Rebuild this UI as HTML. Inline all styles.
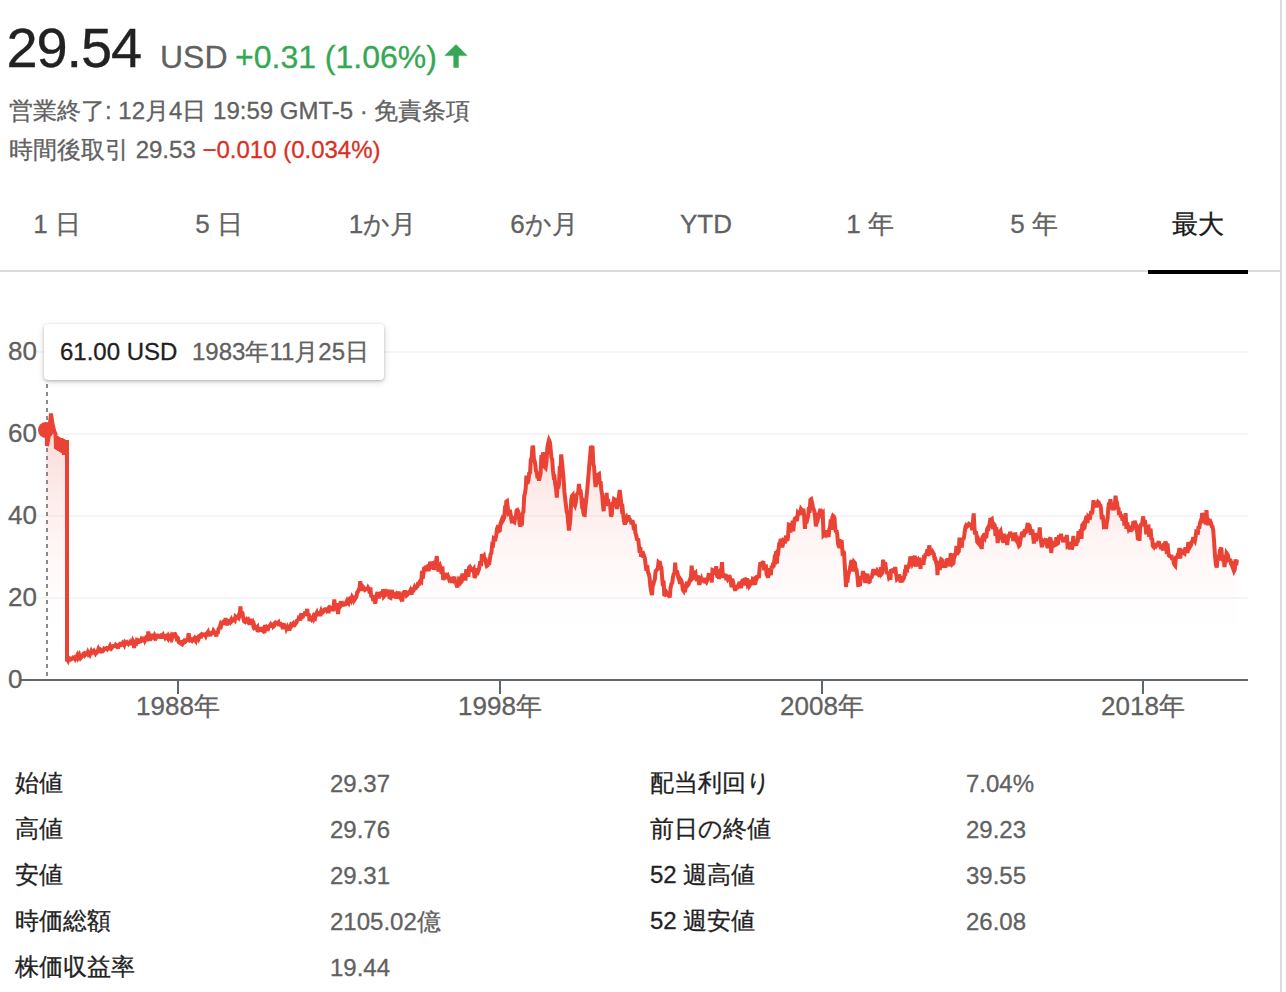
<!DOCTYPE html>
<html lang="ja">
<head>
<meta charset="utf-8">
<title>29.54 USD</title>
<style>
html,body{margin:0;padding:0;background:#fff;}
body{width:1286px;height:992px;position:relative;overflow:hidden;font-family:"Liberation Sans",sans-serif;color:#5f6368;}
.t{position:absolute;white-space:nowrap;line-height:1;margin:0;-webkit-text-stroke:0.3px currentColor;}
.j{display:inline-block;white-space:nowrap;vertical-align:baseline;line-height:0;}
#price{left:6.5px;top:20px;font-size:56px;color:#222;letter-spacing:-1.1px;}
#cur{left:160px;top:41px;font-size:32px;color:#616161;}
#chg{left:235px;top:41px;font-size:32px;color:#34a853;}
#l2{left:9px;top:99px;font-size:24px;color:#616161;}
#l3{left:9px;top:138px;font-size:24px;color:#616161;}
#l3 .neg{color:#d93025;}
.tab{-webkit-text-stroke:0.3px currentColor;position:absolute;top:198px;width:100px;height:72px;line-height:52px;text-align:center;font-size:26px;color:#626262;white-space:nowrap;}
.tab.on{color:#1a1a1a;}
#tabline{position:absolute;left:0;top:270px;width:1281px;height:2px;background:#dadce0;}
#tabsel{position:absolute;left:1148px;top:270px;width:100px;height:4px;background:#000;}
#vline{position:absolute;left:1280px;top:0;width:2px;height:992px;background:#dadce0;}
#chart{position:absolute;left:0;top:300px;}
.yl{font-size:26px;color:#616161;left:8px;}
.xl{font-size:26px;color:#616161;width:120px;text-align:center;top:693px;}
#tip{position:absolute;left:44px;top:324px;width:340px;height:56px;background:#fff;border-radius:4px;box-shadow:0 1px 3px rgba(0,0,0,.22),0 2px 7px rgba(0,0,0,.14);}
#tipv{left:60px;top:340px;font-size:24px;color:#202020;}
#tipd{left:192px;top:340px;font-size:24px;color:#616161;}
.k{font-size:24px;color:#222;}
.v{font-size:24px;color:#616161;}
</style>
</head>
<body>
<div id="vline"></div>

<div class="t" id="price">29.54</div>
<div class="t" id="cur">USD</div>
<div class="t" id="chg">+0.31 (1.06%)</div>
<svg style="position:absolute;left:444px;top:44px" width="24" height="24" viewBox="0 0 24 24"><path d="M12 0.2 L23.6 11.8 L14.7 11.8 L14.7 23.7 L9.4 23.7 L9.4 11.8 L0.3 11.8 Z" fill="#34a853"/></svg>

<div class="t" id="l2"><span class="j" style="width:96px">営業終了</span>: 12<span class="j" style="width:24px">月</span>4<span class="j" style="width:24px">日</span> 19:59 GMT-5 · <span class="j" style="width:96px">免責条項</span></div>
<div class="t" id="l3"><span class="j" style="width:120px">時間後取引</span> 29.53 <span class="neg">−0.010 (0.034%)</span></div>

<div class="tab" style="left:7px">1 <span class="j" style="width:26px">日</span></div>
<div class="tab" style="left:169px">5 <span class="j" style="width:26px">日</span></div>
<div class="tab" style="left:332px">1<span class="j" style="width:52px">か月</span></div>
<div class="tab" style="left:493.5px">6<span class="j" style="width:52px">か月</span></div>
<div class="tab" style="left:656px">YTD</div>
<div class="tab" style="left:820px">1 <span class="j" style="width:26px">年</span></div>
<div class="tab" style="left:984px">5 <span class="j" style="width:26px">年</span></div>
<div class="tab on" style="left:1148px"><span class="j" style="width:52px">最大</span></div>
<div id="tabline"></div>
<div id="tabsel"></div>

<svg id="chart" width="1286" height="400" viewBox="0 300 1286 400">
  <defs>
    <linearGradient id="g" x1="0" y1="413" x2="0" y2="679" gradientUnits="userSpaceOnUse">
      <stop offset="0" stop-color="#ea4335" stop-opacity="0.2"/>
      <stop offset="0.14" stop-color="#ea4335" stop-opacity="0.165"/>
      <stop offset="0.33" stop-color="#ea4335" stop-opacity="0.098"/>
      <stop offset="0.45" stop-color="#ea4335" stop-opacity="0.062"/>
      <stop offset="0.59" stop-color="#ea4335" stop-opacity="0.03"/>
      <stop offset="0.69" stop-color="#ea4335" stop-opacity="0.012"/>
      <stop offset="0.8" stop-color="#ea4335" stop-opacity="0.003"/>
      <stop offset="1" stop-color="#ea4335" stop-opacity="0"/>
    </linearGradient>
  </defs>
  <g stroke="#f5f5f5" stroke-width="2">
    <line x1="37" y1="352" x2="1248" y2="352"/>
    <line x1="37" y1="434" x2="1248" y2="434"/>
    <line x1="37" y1="516" x2="1248" y2="516"/>
    <line x1="37" y1="598" x2="1248" y2="598"/>
  </g>
  <path d="M46.5 430.0 L47.0 446.0 L48.5 438.0 L51.0 413.5 L52.5 424.0 L54.2 431.0 L55.5 434.0 L56.0 449.0 L56.8 436.0 L57.6 450.0 L58.4 437.0 L59.2 451.0 L60.0 438.0 L60.8 452.0 L61.6 438.0 L62.4 453.0 L63.2 439.0 L64.0 455.0 L64.8 440.0 L65.5 455.0 L66.2 440.0 L66.8 454.0 L67.0 440.0 L67.0 661.5 L67.4 659.5 L68.1 660.7 L68.8 658.7 L69.5 658.3 L70.2 658.7 L70.9 659.4 L71.6 658.9 L72.3 658.6 L73.0 657.8 L73.7 658.3 L74.4 657.7 L75.1 658.9 L75.8 657.4 L76.5 657.0 L77.2 655.5 L77.9 657.6 L78.6 656.1 L79.3 654.7 L80.0 656.6 L80.7 654.8 L81.4 657.1 L82.1 656.3 L82.8 655.2 L83.6 653.5 L84.3 653.2 L85.0 655.0 L85.7 654.1 L86.4 654.5 L87.1 654.5 L87.8 652.6 L88.5 654.3 L89.2 653.5 L89.9 654.7 L90.6 652.9 L91.3 651.1 L92.0 652.5 L92.7 651.8 L93.4 652.2 L94.1 651.1 L94.8 652.2 L95.5 653.5 L96.2 652.1 L96.9 652.3 L97.6 651.2 L98.3 649.3 L99.0 651.0 L99.7 651.2 L100.5 649.5 L101.2 650.0 L101.9 651.5 L102.6 651.4 L103.4 650.4 L104.1 648.7 L104.8 649.1 L105.5 648.6 L106.3 648.2 L107.0 648.9 L107.7 646.6 L108.5 649.7 L109.2 648.0 L109.9 649.6 L110.6 646.8 L111.4 648.4 L112.1 647.6 L112.8 646.7 L113.5 645.9 L114.3 645.8 L115.0 646.0 L115.7 644.8 L116.4 645.6 L117.1 646.5 L117.9 648.4 L118.6 645.6 L119.3 644.4 L120.0 643.9 L120.7 644.2 L121.4 645.0 L122.1 644.7 L122.9 642.8 L123.6 643.4 L124.3 644.8 L125.0 642.4 L125.7 643.2 L126.4 643.4 L127.1 642.5 L127.9 643.4 L128.6 641.0 L129.3 644.5 L130.0 643.0 L130.7 645.0 L131.4 640.6 L132.1 643.4 L132.8 641.0 L133.5 642.6 L134.2 648.0 L134.9 639.7 L135.6 642.2 L136.3 642.8 L137.0 639.7 L137.7 639.9 L138.4 640.7 L139.1 641.9 L139.9 641.7 L140.6 641.0 L141.3 639.4 L142.0 640.4 L142.7 639.8 L143.4 636.9 L144.1 638.9 L144.8 640.7 L145.5 639.3 L146.2 637.7 L146.9 635.7 L147.6 641.3 L148.3 631.4 L149.0 638.0 L149.7 638.8 L150.5 639.1 L151.2 637.8 L151.9 635.4 L152.7 635.4 L153.4 637.6 L154.1 638.2 L154.9 635.3 L155.6 636.3 L156.3 637.4 L157.1 635.7 L157.8 635.5 L158.5 636.3 L159.3 636.4 L160.0 636.0 L160.7 638.6 L161.4 635.8 L162.1 635.9 L162.9 634.8 L163.6 636.4 L164.3 636.2 L165.0 637.6 L165.7 636.4 L166.4 635.9 L167.1 637.3 L167.9 638.5 L168.6 636.1 L169.3 637.3 L170.0 637.0 L170.7 638.4 L171.4 636.2 L172.1 637.6 L172.9 634.4 L173.6 634.6 L174.3 634.1 L175.0 634.0 L175.7 635.5 L176.4 638.0 L177.1 637.2 L177.9 637.8 L178.6 642.1 L179.3 642.8 L180.0 643.0 L180.7 640.5 L181.4 643.8 L182.1 644.3 L182.9 642.2 L183.6 641.3 L184.3 642.6 L185.0 642.2 L185.7 640.3 L186.4 640.3 L187.1 640.3 L187.9 639.8 L188.6 633.2 L189.3 637.8 L190.0 640.0 L190.7 639.5 L191.4 640.2 L192.1 637.8 L192.9 639.8 L193.6 638.9 L194.3 638.1 L195.0 639.9 L195.7 640.9 L196.4 638.1 L197.1 638.3 L197.9 637.4 L198.6 638.8 L199.3 637.0 L200.0 637.0 L200.7 635.0 L201.4 634.4 L202.1 635.4 L202.8 634.4 L203.5 634.7 L204.2 634.8 L205.0 634.4 L205.7 635.8 L206.4 633.8 L207.1 633.2 L207.8 632.2 L208.5 636.3 L209.2 633.9 L209.9 634.4 L210.6 634.4 L211.3 631.4 L212.0 633.3 L212.8 633.0 L213.5 630.8 L214.2 631.8 L214.9 633.3 L215.6 633.6 L216.3 636.4 L217.0 632.0 L217.7 633.9 L218.4 629.3 L219.1 628.3 L219.9 626.5 L220.6 624.2 L221.3 625.4 L222.0 623.0 L222.7 624.7 L223.4 621.5 L224.1 621.1 L224.9 621.4 L225.6 618.2 L226.3 622.4 L227.0 625.3 L227.7 621.8 L228.4 619.5 L229.1 621.5 L229.9 622.4 L230.6 620.7 L231.3 619.4 L232.0 621.0 L232.7 620.3 L233.4 619.6 L234.1 619.7 L234.8 620.4 L235.5 616.6 L236.2 617.2 L236.9 617.3 L237.6 617.7 L238.3 616.1 L239.0 617.3 L239.7 615.4 L240.4 606.3 L241.1 616.8 L241.8 612.1 L242.5 613.0 L243.3 618.0 L244.2 621.5 L245.0 622.0 L245.8 620.7 L246.6 619.6 L247.4 620.9 L248.2 620.0 L249.0 623.0 L249.7 624.3 L250.4 618.8 L251.1 624.7 L251.8 623.3 L252.5 622.4 L253.2 625.4 L253.9 624.5 L254.6 627.8 L255.3 627.4 L256.0 625.6 L256.7 627.9 L257.4 627.1 L258.1 631.9 L258.8 627.2 L259.5 630.3 L260.2 630.1 L260.9 628.8 L261.6 628.6 L262.3 630.4 L263.0 631.0 L263.7 629.3 L264.4 633.1 L265.1 624.8 L265.8 629.0 L266.5 627.9 L267.2 629.2 L267.9 629.3 L268.6 627.2 L269.3 626.1 L270.0 626.0 L270.7 624.6 L271.4 625.7 L272.1 627.2 L272.8 622.7 L273.5 626.4 L274.2 625.8 L274.9 623.1 L275.6 622.4 L276.3 622.7 L277.0 623.0 L277.7 623.7 L278.5 622.7 L279.2 625.6 L279.9 622.0 L280.7 626.3 L281.4 623.1 L282.1 626.3 L282.9 628.9 L283.6 623.3 L284.3 625.5 L285.1 628.3 L285.8 625.6 L286.5 628.7 L287.3 627.1 L288.0 629.0 L288.7 625.4 L289.4 630.6 L290.1 626.9 L290.9 624.9 L291.6 625.6 L292.3 624.3 L293.0 623.6 L293.7 626.8 L294.4 623.0 L295.1 624.3 L295.9 623.2 L296.6 622.5 L297.3 619.4 L298.0 621.0 L298.7 618.3 L299.4 618.9 L300.1 620.6 L300.8 615.2 L301.5 613.5 L302.2 617.2 L303.0 616.7 L303.7 614.6 L304.4 614.4 L305.1 611.8 L305.8 613.9 L306.5 612.0 L307.2 608.9 L308.0 616.2 L308.8 613.6 L309.5 621.1 L310.2 617.9 L311.0 618.0 L311.7 619.3 L312.4 618.2 L313.1 616.7 L313.8 618.6 L314.5 616.8 L315.2 617.6 L315.9 614.3 L316.6 613.0 L317.3 616.1 L318.0 613.0 L318.8 613.4 L319.5 616.0 L320.2 613.5 L321.0 611.2 L321.8 613.4 L322.5 612.7 L323.2 612.0 L324.0 611.1 L324.8 608.3 L325.5 611.5 L326.2 607.7 L327.0 610.0 L327.7 609.1 L328.5 613.1 L329.2 608.7 L329.9 611.0 L330.6 607.6 L331.4 608.1 L332.1 607.9 L332.8 609.4 L333.5 609.4 L334.3 599.5 L335.0 607.0 L335.8 608.0 L336.5 607.9 L337.2 603.1 L338.0 614.1 L338.8 608.3 L339.5 604.9 L340.2 603.6 L341.0 601.4 L341.8 604.8 L342.5 604.0 L343.2 605.8 L344.0 602.3 L344.7 604.5 L345.4 604.3 L346.2 602.2 L346.9 600.8 L347.6 602.4 L348.4 603.3 L349.1 599.9 L349.9 598.3 L350.6 598.2 L351.3 599.8 L352.1 597.0 L352.8 598.2 L353.5 595.9 L354.3 600.1 L355.0 599.0 L355.8 597.8 L356.5 596.4 L357.2 592.2 L358.0 591.7 L358.8 589.4 L359.5 589.0 L360.2 581.2 L361.0 588.0 L361.8 588.3 L362.6 590.5 L363.4 587.4 L364.2 588.4 L365.0 590.0 L365.8 589.5 L366.6 587.1 L367.4 590.4 L368.2 587.8 L369.0 589.0 L369.7 593.5 L370.4 587.3 L371.1 595.9 L371.9 596.2 L372.6 596.6 L373.3 600.8 L374.0 599.0 L374.7 601.6 L375.4 603.6 L376.1 596.6 L376.8 594.1 L377.5 592.3 L378.2 595.3 L378.9 598.4 L379.6 592.6 L380.3 595.2 L381.0 595.0 L381.7 591.5 L382.5 596.4 L383.2 589.2 L383.9 596.5 L384.6 595.7 L385.4 595.1 L386.1 593.2 L386.8 594.8 L387.5 589.8 L388.3 592.9 L389.0 591.5 L389.7 597.4 L390.5 597.8 L391.2 592.8 L391.9 590.0 L392.7 596.9 L393.4 592.0 L394.1 597.7 L394.9 594.6 L395.6 594.8 L396.3 598.7 L397.1 594.7 L397.8 595.6 L398.5 593.6 L399.3 591.9 L400.0 596.0 L400.7 597.8 L401.5 596.2 L402.2 601.4 L402.9 595.3 L403.7 592.8 L404.4 592.9 L405.1 590.5 L405.9 593.0 L406.6 595.4 L407.3 594.8 L408.1 592.7 L408.8 592.7 L409.5 592.1 L410.3 590.5 L411.0 593.0 L411.7 594.5 L412.4 587.5 L413.1 592.0 L413.9 589.0 L414.6 587.1 L415.3 588.4 L416.0 588.0 L416.8 586.4 L417.5 586.2 L418.3 582.1 L419.1 585.4 L419.8 581.4 L420.6 580.6 L421.3 581.3 L422.0 570.9 L422.7 578.6 L423.4 574.3 L424.2 567.0 L424.9 571.5 L425.6 567.4 L426.3 567.4 L427.0 566.5 L427.8 566.1 L428.6 571.0 L429.4 567.2 L430.2 561.9 L431.0 564.0 L431.7 563.7 L432.4 568.8 L433.1 565.6 L433.9 569.6 L434.6 567.8 L435.3 560.6 L436.0 562.0 L436.8 556.1 L437.6 564.8 L438.4 571.5 L439.2 567.5 L440.0 566.0 L440.8 569.0 L441.6 573.9 L442.4 566.4 L443.2 579.9 L444.0 577.5 L444.8 577.6 L445.5 573.0 L446.2 575.9 L447.0 576.5 L447.8 575.6 L448.5 577.7 L449.2 579.8 L450.0 579.0 L450.7 577.0 L451.5 581.3 L452.2 581.2 L452.9 577.2 L453.6 579.1 L454.4 576.6 L455.1 583.6 L455.8 580.4 L456.5 585.1 L457.3 587.2 L458.0 584.0 L458.8 580.0 L459.5 580.9 L460.2 579.4 L461.0 582.3 L461.8 581.3 L462.5 573.5 L463.2 577.9 L464.0 576.0 L464.7 574.6 L465.5 580.5 L466.2 569.4 L466.9 571.4 L467.7 574.0 L468.4 576.8 L469.1 567.4 L469.9 566.7 L470.6 568.0 L471.4 570.2 L472.1 570.3 L472.9 570.1 L473.7 569.0 L474.5 577.8 L475.2 576.5 L476.0 574.0 L476.7 570.1 L477.4 570.0 L478.2 571.4 L478.9 569.5 L479.6 565.3 L480.3 561.3 L481.1 566.1 L481.8 555.7 L482.5 555.6 L483.2 556.9 L483.9 556.0 L484.7 561.4 L485.4 557.8 L486.1 563.5 L486.8 565.9 L487.6 565.3 L488.3 560.0 L489.0 565.0 L489.8 559.6 L490.6 554.2 L491.4 552.8 L492.2 544.6 L493.0 545.0 L493.8 538.4 L494.6 539.0 L495.4 539.2 L496.2 536.0 L497.0 529.0 L497.7 526.7 L498.4 525.5 L499.1 531.0 L499.8 530.6 L500.6 523.1 L501.3 521.2 L502.0 519.4 L502.7 520.9 L503.4 519.7 L504.1 518.0 L504.8 510.5 L505.6 511.7 L506.3 501.5 L507.0 501.0 L507.7 506.8 L508.4 512.8 L509.1 512.0 L509.9 509.9 L510.6 514.1 L511.3 519.4 L512.0 523.0 L512.8 519.8 L513.6 521.4 L514.4 522.1 L515.1 518.7 L515.9 515.2 L516.7 510.4 L517.5 510.0 L518.2 511.3 L518.9 515.8 L519.6 524.1 L520.3 526.5 L521.0 523.0 L521.8 525.5 L522.6 513.3 L523.4 512.0 L524.2 496.2 L525.0 493.0 L525.7 488.6 L526.4 475.6 L527.1 483.0 L527.9 482.4 L528.6 479.2 L529.3 472.2 L530.0 474.0 L530.8 459.6 L531.7 457.5 L532.5 446.0 L533.2 447.4 L533.9 458.8 L534.6 461.1 L535.3 464.3 L536.0 471.0 L536.8 472.5 L537.5 478.3 L538.2 476.7 L539.0 480.6 L539.8 476.9 L540.6 473.6 L541.4 455.0 L542.2 463.6 L543.0 452.5 L543.9 456.1 L544.7 467.0 L545.6 468.0 L546.5 461.1 L547.3 448.2 L548.1 443.5 L549.0 440.0 L549.8 441.7 L550.6 448.9 L551.4 457.4 L552.2 459.5 L553.0 471.0 L553.8 477.1 L554.5 476.8 L555.2 483.9 L556.0 487.8 L556.8 497.6 L557.5 487.0 L558.2 488.5 L559.0 484.2 L559.8 466.1 L560.5 469.5 L561.2 454.4 L562.0 462.0 L562.8 470.9 L563.6 478.9 L564.4 491.9 L565.2 498.9 L566.0 505.6 L566.8 512.2 L567.5 514.2 L568.2 523.1 L569.0 530.6 L569.8 524.6 L570.5 516.5 L571.2 500.0 L572.0 496.0 L572.8 495.1 L573.5 502.0 L574.2 504.1 L575.0 505.6 L575.8 502.5 L576.6 495.1 L577.4 493.5 L578.2 492.5 L579.0 484.0 L579.7 492.2 L580.4 489.5 L581.1 494.6 L581.9 504.0 L582.6 503.0 L583.3 512.2 L584.0 514.8 L584.7 515.0 L585.5 505.8 L586.4 498.3 L587.2 490.1 L588.0 480.6 L588.8 471.6 L589.5 462.5 L590.2 455.3 L591.0 446.0 L591.8 447.9 L592.5 445.8 L593.3 464.0 L594.1 467.1 L594.8 479.3 L595.6 487.0 L596.5 481.3 L597.3 481.7 L598.1 474.6 L599.0 474.0 L599.8 482.7 L600.6 481.4 L601.4 490.8 L602.2 495.0 L603.0 505.6 L603.7 511.2 L604.4 498.2 L605.1 502.9 L605.9 503.4 L606.6 492.8 L607.3 504.2 L608.0 499.0 L608.8 506.1 L609.5 503.4 L610.2 506.3 L611.0 516.5 L611.8 514.5 L612.5 504.1 L613.2 504.1 L614.0 499.0 L614.8 499.5 L615.5 503.3 L616.2 502.6 L617.0 509.0 L617.9 502.2 L618.8 496.9 L619.7 490.0 L620.4 495.5 L621.1 502.0 L621.9 509.3 L622.6 508.4 L623.3 515.6 L624.0 521.0 L624.8 524.7 L625.5 518.0 L626.2 517.0 L627.0 520.4 L627.8 519.1 L628.5 515.2 L629.2 521.4 L630.0 519.7 L630.8 521.0 L631.6 524.2 L632.4 520.2 L633.1 522.9 L633.9 530.0 L634.7 524.0 L635.4 533.0 L636.1 534.9 L636.9 539.1 L637.6 539.4 L638.3 539.8 L639.0 546.0 L639.7 552.9 L640.4 547.1 L641.1 556.8 L641.9 551.3 L642.6 554.7 L643.3 557.5 L644.0 555.6 L644.8 557.9 L645.6 564.5 L646.4 570.8 L647.2 565.2 L648.0 572.5 L648.8 574.0 L649.6 577.7 L650.4 586.8 L651.2 591.4 L652.0 595.0 L652.7 585.6 L653.4 584.3 L654.2 580.8 L654.9 579.2 L655.6 571.0 L656.3 570.7 L657.1 569.5 L657.8 568.6 L658.5 562.3 L659.3 563.1 L660.0 563.0 L660.7 566.5 L661.4 567.9 L662.1 577.0 L662.9 586.1 L663.6 580.6 L664.3 596.0 L665.0 595.0 L665.8 594.2 L666.6 592.5 L667.4 593.9 L668.2 594.9 L669.0 596.0 L669.8 597.4 L670.6 587.7 L671.4 584.0 L672.2 583.1 L673.0 576.9 L673.8 574.0 L674.5 573.5 L675.2 562.6 L676.0 574.0 L676.8 570.4 L677.5 573.0 L678.3 577.7 L679.2 579.7 L680.0 584.0 L680.7 579.5 L681.4 580.5 L682.1 583.5 L682.8 589.7 L683.5 590.7 L684.2 586.6 L684.9 592.1 L685.6 588.0 L686.4 584.0 L687.1 582.0 L687.9 585.2 L688.7 584.2 L689.4 581.2 L690.2 578.8 L690.9 576.9 L691.7 565.6 L692.5 578.3 L693.2 577.5 L694.0 573.0 L694.8 573.9 L695.5 573.1 L696.2 578.8 L697.0 580.6 L697.7 575.9 L698.5 577.3 L699.2 584.7 L699.9 582.9 L700.7 580.2 L701.4 578.6 L702.1 580.8 L702.8 580.8 L703.6 580.7 L704.3 578.0 L705.0 581.2 L705.8 580.9 L706.5 582.0 L707.2 580.3 L708.0 578.4 L708.8 573.1 L709.5 580.4 L710.2 578.5 L711.0 573.7 L711.8 582.5 L712.5 569.9 L713.2 570.2 L714.0 573.0 L714.7 571.0 L715.5 574.6 L716.2 566.1 L716.9 575.3 L717.7 577.4 L718.4 573.7 L719.1 579.0 L719.9 571.0 L720.6 570.0 L721.3 570.6 L722.0 562.1 L722.7 573.3 L723.4 577.8 L724.2 575.7 L724.9 575.8 L725.6 574.0 L726.3 580.3 L727.0 577.5 L727.8 579.5 L728.5 578.6 L729.2 575.3 L730.0 577.5 L730.8 581.0 L731.5 587.4 L732.2 578.9 L733.0 581.4 L733.8 585.9 L734.5 587.7 L735.2 590.8 L736.0 587.0 L736.7 586.8 L737.4 587.1 L738.2 585.1 L738.9 584.4 L739.6 581.9 L740.3 585.9 L741.1 588.0 L741.8 582.4 L742.5 580.6 L743.2 580.5 L744.0 579.7 L744.8 579.4 L745.5 585.4 L746.2 582.2 L747.0 578.2 L747.8 584.6 L748.5 583.7 L749.2 586.2 L750.0 585.0 L750.7 580.1 L751.4 581.7 L752.2 584.8 L752.9 579.4 L753.6 579.9 L754.3 584.9 L755.1 580.1 L755.8 580.9 L756.5 577.5 L757.3 577.6 L758.1 575.3 L758.9 578.0 L759.6 568.5 L760.4 562.2 L761.2 565.3 L762.0 563.0 L762.8 562.5 L763.5 562.7 L764.2 570.4 L765.0 567.4 L765.8 564.5 L766.5 574.1 L767.2 575.1 L768.0 577.5 L768.7 574.6 L769.4 568.3 L770.2 573.6 L770.9 575.1 L771.6 565.6 L772.3 568.5 L773.0 564.8 L773.8 565.0 L774.5 559.1 L775.3 560.1 L776.1 551.3 L776.9 563.7 L777.7 549.8 L778.4 550.8 L779.2 543.7 L780.0 543.0 L780.7 539.0 L781.5 540.6 L782.2 547.2 L782.9 544.7 L783.6 541.0 L784.4 541.9 L785.1 543.3 L785.8 537.5 L786.5 537.6 L787.3 541.0 L788.0 537.0 L788.8 524.6 L789.5 524.8 L790.3 532.4 L791.0 529.1 L791.8 530.8 L792.6 520.7 L793.3 531.4 L794.1 522.2 L794.8 518.7 L795.6 518.0 L796.4 519.7 L797.1 519.6 L797.9 512.9 L798.7 513.9 L799.5 512.7 L800.2 513.0 L801.0 509.0 L801.8 510.1 L802.6 513.4 L803.4 508.7 L804.1 515.5 L804.9 528.9 L805.7 517.7 L806.5 518.0 L807.3 519.3 L808.1 516.1 L808.9 507.2 L809.6 512.8 L810.4 499.7 L811.2 499.1 L812.0 502.5 L812.8 506.5 L813.6 509.0 L814.4 511.4 L815.1 517.1 L815.9 526.3 L816.7 522.4 L817.5 521.0 L818.3 515.4 L819.0 515.8 L819.8 511.1 L820.6 509.0 L821.3 516.7 L822.1 514.4 L822.8 513.5 L823.5 535.2 L824.3 534.4 L825.0 535.0 L825.7 530.5 L826.4 532.2 L827.1 533.4 L827.9 531.4 L828.6 537.0 L829.3 529.0 L830.0 527.5 L830.8 519.4 L831.5 529.9 L832.2 518.1 L833.0 515.8 L833.8 516.5 L834.5 518.0 L835.2 528.4 L835.9 532.4 L836.6 530.4 L837.3 535.0 L838.0 543.9 L838.8 546.0 L839.5 547.7 L840.2 545.3 L841.0 541.5 L841.8 541.9 L842.5 552.3 L843.2 551.6 L844.0 552.5 L845.0 569.1 L846.0 587.0 L846.7 577.1 L847.4 582.4 L848.1 576.3 L848.9 572.4 L849.6 570.5 L850.3 566.7 L851.0 562.0 L851.8 560.2 L852.6 567.4 L853.4 571.4 L854.2 562.1 L855.0 563.0 L855.8 569.4 L856.6 569.8 L857.4 576.6 L858.2 585.1 L859.0 585.0 L859.8 579.9 L860.6 581.1 L861.4 576.0 L862.2 578.1 L863.0 571.0 L863.8 575.5 L864.5 573.0 L865.2 583.1 L866.0 574.8 L866.8 578.8 L867.5 573.6 L868.2 581.0 L869.0 582.0 L869.7 581.7 L870.5 576.2 L871.2 578.3 L871.9 576.4 L872.6 573.6 L873.4 569.1 L874.1 572.3 L874.8 570.4 L875.5 575.0 L876.3 572.6 L877.0 571.0 L877.8 572.6 L878.5 570.1 L879.2 572.3 L880.0 576.9 L880.8 567.1 L881.5 574.0 L882.3 573.0 L883.1 559.7 L883.9 566.2 L884.7 563.5 L885.4 563.7 L886.1 569.8 L886.9 572.7 L887.6 572.9 L888.3 573.9 L889.0 577.5 L889.7 576.6 L890.4 579.8 L891.1 569.1 L891.9 573.3 L892.6 568.6 L893.3 570.9 L894.0 571.0 L894.7 568.8 L895.5 568.8 L896.2 574.9 L896.9 579.1 L897.6 578.4 L898.4 577.2 L899.1 574.7 L899.8 576.9 L900.5 582.6 L901.3 579.4 L902.0 582.0 L902.7 578.6 L903.4 578.9 L904.1 577.6 L904.8 572.3 L905.5 572.7 L906.2 564.9 L906.9 572.6 L907.6 564.9 L908.3 568.2 L909.0 565.0 L909.7 562.0 L910.4 556.5 L911.1 559.6 L911.8 560.4 L912.5 563.8 L913.2 562.5 L914.0 558.2 L914.7 555.8 L915.4 563.4 L916.1 566.5 L916.8 557.7 L917.5 560.0 L918.2 559.2 L919.0 560.5 L919.8 560.1 L920.5 568.8 L921.2 562.2 L922.0 565.0 L922.8 560.2 L923.5 564.9 L924.2 554.8 L925.0 556.5 L925.8 553.5 L926.5 555.6 L927.2 549.6 L928.0 551.0 L928.7 549.2 L929.4 545.4 L930.1 553.3 L930.9 552.8 L931.6 552.4 L932.3 551.4 L933.0 552.5 L933.8 553.9 L934.5 558.5 L935.2 558.5 L936.0 561.9 L936.8 560.8 L937.5 575.1 L938.2 562.1 L939.0 566.5 L939.7 570.0 L940.5 562.8 L941.2 559.4 L941.9 559.9 L942.6 563.7 L943.4 567.3 L944.1 565.3 L944.8 566.0 L945.5 567.4 L946.3 561.6 L947.0 562.0 L947.7 558.3 L948.4 562.6 L949.1 565.9 L949.9 564.3 L950.6 555.0 L951.3 555.0 L952.0 555.6 L952.8 563.7 L953.5 563.0 L954.2 553.6 L955.0 555.3 L955.8 552.7 L956.5 545.9 L957.2 551.5 L958.0 552.5 L958.8 551.3 L959.5 537.6 L960.2 547.7 L961.0 539.4 L961.8 547.6 L962.5 538.0 L963.2 540.0 L964.0 537.0 L964.7 532.0 L965.4 527.2 L966.1 525.7 L966.9 526.8 L967.6 526.1 L968.3 525.6 L969.0 524.0 L969.8 524.5 L970.6 524.8 L971.4 525.1 L972.2 530.2 L973.0 521.0 L973.7 513.4 L974.4 526.4 L975.1 534.6 L975.9 531.4 L976.6 535.0 L977.3 542.2 L978.0 543.0 L978.7 539.5 L979.5 541.0 L980.2 543.7 L981.0 542.6 L981.7 549.1 L982.5 537.1 L983.2 536.0 L984.0 537.0 L984.7 538.0 L985.5 533.2 L986.3 538.0 L987.1 529.1 L987.9 527.7 L988.6 528.2 L989.4 525.0 L990.2 519.7 L991.0 519.7 L991.8 519.1 L992.5 524.0 L993.2 529.3 L994.0 524.4 L994.8 525.5 L995.5 535.8 L996.2 527.2 L997.0 534.0 L997.7 543.0 L998.5 535.5 L999.2 532.6 L999.9 531.9 L1000.6 530.9 L1001.4 535.8 L1002.1 538.9 L1002.8 540.8 L1003.5 542.5 L1004.3 533.7 L1005.0 540.0 L1005.8 535.5 L1006.5 538.9 L1007.2 544.9 L1008.0 538.3 L1008.8 535.3 L1009.5 534.7 L1010.2 531.9 L1011.0 534.0 L1011.7 537.0 L1012.5 535.1 L1013.2 540.9 L1013.9 536.4 L1014.6 534.4 L1015.4 534.3 L1016.1 540.4 L1016.8 541.3 L1017.5 540.1 L1018.3 543.9 L1019.0 546.0 L1019.7 545.3 L1020.5 539.9 L1021.2 536.8 L1021.9 533.3 L1022.6 533.1 L1023.4 536.8 L1024.1 534.5 L1024.8 529.2 L1025.5 533.5 L1026.3 529.7 L1027.0 527.5 L1027.8 522.9 L1028.5 532.3 L1029.2 524.4 L1030.0 527.9 L1030.8 534.8 L1031.5 532.0 L1032.3 529.5 L1033.1 536.2 L1033.9 543.6 L1034.7 537.0 L1035.4 536.9 L1036.1 541.3 L1036.8 532.8 L1037.6 536.5 L1038.3 538.3 L1039.0 535.3 L1039.7 527.4 L1040.4 537.8 L1041.1 542.1 L1041.9 547.2 L1042.6 541.3 L1043.3 542.3 L1044.0 540.0 L1044.7 542.5 L1045.4 539.9 L1046.2 540.1 L1046.9 544.6 L1047.6 548.0 L1048.3 544.2 L1049.1 545.1 L1049.8 538.7 L1050.5 537.5 L1051.2 553.0 L1052.0 545.8 L1052.7 544.4 L1053.4 546.0 L1054.2 545.4 L1054.9 541.7 L1055.7 545.0 L1056.4 537.3 L1057.2 543.8 L1058.0 543.3 L1058.7 537.2 L1059.5 537.4 L1060.2 537.5 L1061.0 534.0 L1061.7 537.5 L1062.5 539.2 L1063.2 542.0 L1063.9 540.3 L1064.6 539.4 L1065.4 542.0 L1066.1 539.1 L1066.8 535.0 L1067.5 545.8 L1068.3 545.1 L1069.0 546.0 L1069.7 549.3 L1070.5 545.3 L1071.2 541.8 L1071.9 549.6 L1072.6 544.9 L1073.4 536.0 L1074.1 544.1 L1074.8 541.7 L1075.5 542.8 L1076.3 545.6 L1077.0 541.5 L1077.8 541.2 L1078.5 531.2 L1079.2 537.8 L1080.0 534.7 L1080.8 529.4 L1081.5 538.9 L1082.2 525.1 L1083.0 524.0 L1083.8 528.6 L1084.5 527.9 L1085.2 523.1 L1086.0 517.8 L1086.8 516.2 L1087.5 523.1 L1088.2 517.0 L1089.0 518.0 L1089.8 519.4 L1090.5 515.0 L1091.2 511.2 L1092.0 514.3 L1092.8 508.3 L1093.5 500.2 L1094.2 504.7 L1095.0 504.0 L1095.8 502.2 L1096.5 507.3 L1097.2 503.8 L1098.0 501.8 L1098.8 502.5 L1099.5 506.3 L1100.2 504.0 L1101.0 508.3 L1101.8 519.3 L1102.5 515.0 L1103.2 518.9 L1103.9 526.4 L1104.6 525.9 L1105.3 520.2 L1106.0 529.0 L1106.7 523.2 L1107.5 519.4 L1108.2 509.2 L1109.0 502.4 L1109.7 505.6 L1110.4 499.2 L1111.2 504.9 L1111.9 506.8 L1112.6 510.2 L1113.3 507.4 L1114.1 509.9 L1114.8 507.0 L1115.5 495.7 L1116.3 501.8 L1117.0 502.5 L1117.7 508.6 L1118.4 507.2 L1119.1 515.1 L1119.9 511.5 L1120.6 515.7 L1121.3 515.8 L1122.0 518.0 L1122.7 520.4 L1123.5 515.9 L1124.2 523.1 L1124.9 522.7 L1125.6 513.1 L1126.4 528.9 L1127.1 522.3 L1127.8 525.9 L1128.5 528.7 L1129.3 527.1 L1130.0 527.5 L1130.8 531.9 L1131.6 528.0 L1132.3 530.6 L1133.1 523.9 L1133.9 524.3 L1134.7 521.0 L1135.5 523.4 L1136.3 525.6 L1137.2 532.7 L1138.0 540.0 L1138.8 532.6 L1139.5 540.8 L1140.2 526.3 L1141.0 523.8 L1141.8 526.0 L1142.5 521.0 L1143.2 516.3 L1144.0 525.9 L1144.8 520.1 L1145.5 525.3 L1146.2 534.3 L1147.0 527.5 L1147.7 526.7 L1148.5 526.5 L1149.2 536.9 L1149.9 531.3 L1150.6 528.6 L1151.4 540.0 L1152.1 537.8 L1152.8 546.0 L1153.5 546.8 L1154.3 543.3 L1155.0 546.0 L1155.8 546.6 L1156.5 545.7 L1157.2 544.0 L1158.0 543.4 L1158.8 541.3 L1159.5 544.9 L1160.2 545.9 L1161.0 549.0 L1161.7 546.2 L1162.4 548.7 L1163.1 550.3 L1163.9 543.2 L1164.6 548.7 L1165.3 541.5 L1166.0 543.0 L1166.8 553.9 L1167.5 543.5 L1168.2 551.7 L1169.0 555.6 L1169.8 556.2 L1170.6 556.6 L1171.4 555.1 L1172.2 559.8 L1173.0 557.9 L1173.8 563.0 L1174.5 564.7 L1175.2 565.6 L1175.9 557.5 L1176.6 557.0 L1177.3 557.0 L1178.0 554.0 L1178.7 553.3 L1179.5 548.0 L1180.2 558.4 L1180.9 553.0 L1181.6 552.0 L1182.4 553.9 L1183.1 549.8 L1183.8 553.0 L1184.5 553.5 L1185.3 547.6 L1186.0 549.0 L1186.7 549.0 L1187.5 553.1 L1188.2 542.4 L1188.9 543.6 L1189.6 543.4 L1190.4 546.2 L1191.1 545.0 L1191.8 541.9 L1192.5 541.3 L1193.3 537.1 L1194.0 540.0 L1194.8 541.2 L1195.5 537.8 L1196.2 532.2 L1197.0 532.8 L1197.8 534.6 L1198.5 526.2 L1199.2 528.8 L1200.0 523.0 L1200.7 521.1 L1201.4 522.8 L1202.1 513.2 L1202.9 515.4 L1203.6 523.3 L1204.3 513.2 L1205.0 518.0 L1205.8 524.6 L1206.5 510.0 L1207.2 522.3 L1208.0 524.9 L1208.8 520.3 L1209.5 521.2 L1210.2 521.0 L1211.0 523.0 L1211.8 526.4 L1212.5 526.6 L1213.2 530.1 L1214.0 540.0 L1215.0 556.2 L1216.0 565.0 L1216.8 567.5 L1217.5 558.0 L1218.3 556.7 L1219.1 560.6 L1219.8 550.7 L1220.6 549.0 L1221.4 549.2 L1222.2 558.4 L1223.0 560.0 L1223.8 559.0 L1224.5 567.1 L1225.2 558.8 L1225.9 559.5 L1226.6 553.0 L1227.3 553.9 L1228.0 555.6 L1228.7 559.6 L1229.4 561.7 L1230.1 558.8 L1230.8 563.1 L1231.5 563.0 L1232.3 566.3 L1233.2 568.8 L1234.0 571.0 L1234.8 569.3 L1235.5 559.3 L1236.2 565.2 L1237.0 560.0 L1237 679 L46.5 679 Z" fill="url(#g)" stroke="none"/>
  <line x1="47" y1="376" x2="47" y2="678" stroke="#8a8a8a" stroke-width="2" stroke-dasharray="4 4"/>
  <line x1="21" y1="680" x2="1248" y2="680" stroke="#62676c" stroke-width="2"/>
  <g stroke="#62676c" stroke-width="2">
    <line x1="178" y1="680" x2="178" y2="694"/>
    <line x1="500" y1="680" x2="500" y2="694"/>
    <line x1="822" y1="680" x2="822" y2="694"/>
    <line x1="1143" y1="680" x2="1143" y2="694"/>
  </g>
  <path d="M46.5 430.0 L47.0 446.0 L48.5 438.0 L51.0 413.5 L52.5 424.0 L54.2 431.0 L55.5 434.0 L56.0 449.0 L56.8 436.0 L57.6 450.0 L58.4 437.0 L59.2 451.0 L60.0 438.0 L60.8 452.0 L61.6 438.0 L62.4 453.0 L63.2 439.0 L64.0 455.0 L64.8 440.0 L65.5 455.0 L66.2 440.0 L66.8 454.0 L67.0 440.0 L67.0 661.5 L67.4 659.5 L68.1 660.7 L68.8 658.7 L69.5 658.3 L70.2 658.7 L70.9 659.4 L71.6 658.9 L72.3 658.6 L73.0 657.8 L73.7 658.3 L74.4 657.7 L75.1 658.9 L75.8 657.4 L76.5 657.0 L77.2 655.5 L77.9 657.6 L78.6 656.1 L79.3 654.7 L80.0 656.6 L80.7 654.8 L81.4 657.1 L82.1 656.3 L82.8 655.2 L83.6 653.5 L84.3 653.2 L85.0 655.0 L85.7 654.1 L86.4 654.5 L87.1 654.5 L87.8 652.6 L88.5 654.3 L89.2 653.5 L89.9 654.7 L90.6 652.9 L91.3 651.1 L92.0 652.5 L92.7 651.8 L93.4 652.2 L94.1 651.1 L94.8 652.2 L95.5 653.5 L96.2 652.1 L96.9 652.3 L97.6 651.2 L98.3 649.3 L99.0 651.0 L99.7 651.2 L100.5 649.5 L101.2 650.0 L101.9 651.5 L102.6 651.4 L103.4 650.4 L104.1 648.7 L104.8 649.1 L105.5 648.6 L106.3 648.2 L107.0 648.9 L107.7 646.6 L108.5 649.7 L109.2 648.0 L109.9 649.6 L110.6 646.8 L111.4 648.4 L112.1 647.6 L112.8 646.7 L113.5 645.9 L114.3 645.8 L115.0 646.0 L115.7 644.8 L116.4 645.6 L117.1 646.5 L117.9 648.4 L118.6 645.6 L119.3 644.4 L120.0 643.9 L120.7 644.2 L121.4 645.0 L122.1 644.7 L122.9 642.8 L123.6 643.4 L124.3 644.8 L125.0 642.4 L125.7 643.2 L126.4 643.4 L127.1 642.5 L127.9 643.4 L128.6 641.0 L129.3 644.5 L130.0 643.0 L130.7 645.0 L131.4 640.6 L132.1 643.4 L132.8 641.0 L133.5 642.6 L134.2 648.0 L134.9 639.7 L135.6 642.2 L136.3 642.8 L137.0 639.7 L137.7 639.9 L138.4 640.7 L139.1 641.9 L139.9 641.7 L140.6 641.0 L141.3 639.4 L142.0 640.4 L142.7 639.8 L143.4 636.9 L144.1 638.9 L144.8 640.7 L145.5 639.3 L146.2 637.7 L146.9 635.7 L147.6 641.3 L148.3 631.4 L149.0 638.0 L149.7 638.8 L150.5 639.1 L151.2 637.8 L151.9 635.4 L152.7 635.4 L153.4 637.6 L154.1 638.2 L154.9 635.3 L155.6 636.3 L156.3 637.4 L157.1 635.7 L157.8 635.5 L158.5 636.3 L159.3 636.4 L160.0 636.0 L160.7 638.6 L161.4 635.8 L162.1 635.9 L162.9 634.8 L163.6 636.4 L164.3 636.2 L165.0 637.6 L165.7 636.4 L166.4 635.9 L167.1 637.3 L167.9 638.5 L168.6 636.1 L169.3 637.3 L170.0 637.0 L170.7 638.4 L171.4 636.2 L172.1 637.6 L172.9 634.4 L173.6 634.6 L174.3 634.1 L175.0 634.0 L175.7 635.5 L176.4 638.0 L177.1 637.2 L177.9 637.8 L178.6 642.1 L179.3 642.8 L180.0 643.0 L180.7 640.5 L181.4 643.8 L182.1 644.3 L182.9 642.2 L183.6 641.3 L184.3 642.6 L185.0 642.2 L185.7 640.3 L186.4 640.3 L187.1 640.3 L187.9 639.8 L188.6 633.2 L189.3 637.8 L190.0 640.0 L190.7 639.5 L191.4 640.2 L192.1 637.8 L192.9 639.8 L193.6 638.9 L194.3 638.1 L195.0 639.9 L195.7 640.9 L196.4 638.1 L197.1 638.3 L197.9 637.4 L198.6 638.8 L199.3 637.0 L200.0 637.0 L200.7 635.0 L201.4 634.4 L202.1 635.4 L202.8 634.4 L203.5 634.7 L204.2 634.8 L205.0 634.4 L205.7 635.8 L206.4 633.8 L207.1 633.2 L207.8 632.2 L208.5 636.3 L209.2 633.9 L209.9 634.4 L210.6 634.4 L211.3 631.4 L212.0 633.3 L212.8 633.0 L213.5 630.8 L214.2 631.8 L214.9 633.3 L215.6 633.6 L216.3 636.4 L217.0 632.0 L217.7 633.9 L218.4 629.3 L219.1 628.3 L219.9 626.5 L220.6 624.2 L221.3 625.4 L222.0 623.0 L222.7 624.7 L223.4 621.5 L224.1 621.1 L224.9 621.4 L225.6 618.2 L226.3 622.4 L227.0 625.3 L227.7 621.8 L228.4 619.5 L229.1 621.5 L229.9 622.4 L230.6 620.7 L231.3 619.4 L232.0 621.0 L232.7 620.3 L233.4 619.6 L234.1 619.7 L234.8 620.4 L235.5 616.6 L236.2 617.2 L236.9 617.3 L237.6 617.7 L238.3 616.1 L239.0 617.3 L239.7 615.4 L240.4 606.3 L241.1 616.8 L241.8 612.1 L242.5 613.0 L243.3 618.0 L244.2 621.5 L245.0 622.0 L245.8 620.7 L246.6 619.6 L247.4 620.9 L248.2 620.0 L249.0 623.0 L249.7 624.3 L250.4 618.8 L251.1 624.7 L251.8 623.3 L252.5 622.4 L253.2 625.4 L253.9 624.5 L254.6 627.8 L255.3 627.4 L256.0 625.6 L256.7 627.9 L257.4 627.1 L258.1 631.9 L258.8 627.2 L259.5 630.3 L260.2 630.1 L260.9 628.8 L261.6 628.6 L262.3 630.4 L263.0 631.0 L263.7 629.3 L264.4 633.1 L265.1 624.8 L265.8 629.0 L266.5 627.9 L267.2 629.2 L267.9 629.3 L268.6 627.2 L269.3 626.1 L270.0 626.0 L270.7 624.6 L271.4 625.7 L272.1 627.2 L272.8 622.7 L273.5 626.4 L274.2 625.8 L274.9 623.1 L275.6 622.4 L276.3 622.7 L277.0 623.0 L277.7 623.7 L278.5 622.7 L279.2 625.6 L279.9 622.0 L280.7 626.3 L281.4 623.1 L282.1 626.3 L282.9 628.9 L283.6 623.3 L284.3 625.5 L285.1 628.3 L285.8 625.6 L286.5 628.7 L287.3 627.1 L288.0 629.0 L288.7 625.4 L289.4 630.6 L290.1 626.9 L290.9 624.9 L291.6 625.6 L292.3 624.3 L293.0 623.6 L293.7 626.8 L294.4 623.0 L295.1 624.3 L295.9 623.2 L296.6 622.5 L297.3 619.4 L298.0 621.0 L298.7 618.3 L299.4 618.9 L300.1 620.6 L300.8 615.2 L301.5 613.5 L302.2 617.2 L303.0 616.7 L303.7 614.6 L304.4 614.4 L305.1 611.8 L305.8 613.9 L306.5 612.0 L307.2 608.9 L308.0 616.2 L308.8 613.6 L309.5 621.1 L310.2 617.9 L311.0 618.0 L311.7 619.3 L312.4 618.2 L313.1 616.7 L313.8 618.6 L314.5 616.8 L315.2 617.6 L315.9 614.3 L316.6 613.0 L317.3 616.1 L318.0 613.0 L318.8 613.4 L319.5 616.0 L320.2 613.5 L321.0 611.2 L321.8 613.4 L322.5 612.7 L323.2 612.0 L324.0 611.1 L324.8 608.3 L325.5 611.5 L326.2 607.7 L327.0 610.0 L327.7 609.1 L328.5 613.1 L329.2 608.7 L329.9 611.0 L330.6 607.6 L331.4 608.1 L332.1 607.9 L332.8 609.4 L333.5 609.4 L334.3 599.5 L335.0 607.0 L335.8 608.0 L336.5 607.9 L337.2 603.1 L338.0 614.1 L338.8 608.3 L339.5 604.9 L340.2 603.6 L341.0 601.4 L341.8 604.8 L342.5 604.0 L343.2 605.8 L344.0 602.3 L344.7 604.5 L345.4 604.3 L346.2 602.2 L346.9 600.8 L347.6 602.4 L348.4 603.3 L349.1 599.9 L349.9 598.3 L350.6 598.2 L351.3 599.8 L352.1 597.0 L352.8 598.2 L353.5 595.9 L354.3 600.1 L355.0 599.0 L355.8 597.8 L356.5 596.4 L357.2 592.2 L358.0 591.7 L358.8 589.4 L359.5 589.0 L360.2 581.2 L361.0 588.0 L361.8 588.3 L362.6 590.5 L363.4 587.4 L364.2 588.4 L365.0 590.0 L365.8 589.5 L366.6 587.1 L367.4 590.4 L368.2 587.8 L369.0 589.0 L369.7 593.5 L370.4 587.3 L371.1 595.9 L371.9 596.2 L372.6 596.6 L373.3 600.8 L374.0 599.0 L374.7 601.6 L375.4 603.6 L376.1 596.6 L376.8 594.1 L377.5 592.3 L378.2 595.3 L378.9 598.4 L379.6 592.6 L380.3 595.2 L381.0 595.0 L381.7 591.5 L382.5 596.4 L383.2 589.2 L383.9 596.5 L384.6 595.7 L385.4 595.1 L386.1 593.2 L386.8 594.8 L387.5 589.8 L388.3 592.9 L389.0 591.5 L389.7 597.4 L390.5 597.8 L391.2 592.8 L391.9 590.0 L392.7 596.9 L393.4 592.0 L394.1 597.7 L394.9 594.6 L395.6 594.8 L396.3 598.7 L397.1 594.7 L397.8 595.6 L398.5 593.6 L399.3 591.9 L400.0 596.0 L400.7 597.8 L401.5 596.2 L402.2 601.4 L402.9 595.3 L403.7 592.8 L404.4 592.9 L405.1 590.5 L405.9 593.0 L406.6 595.4 L407.3 594.8 L408.1 592.7 L408.8 592.7 L409.5 592.1 L410.3 590.5 L411.0 593.0 L411.7 594.5 L412.4 587.5 L413.1 592.0 L413.9 589.0 L414.6 587.1 L415.3 588.4 L416.0 588.0 L416.8 586.4 L417.5 586.2 L418.3 582.1 L419.1 585.4 L419.8 581.4 L420.6 580.6 L421.3 581.3 L422.0 570.9 L422.7 578.6 L423.4 574.3 L424.2 567.0 L424.9 571.5 L425.6 567.4 L426.3 567.4 L427.0 566.5 L427.8 566.1 L428.6 571.0 L429.4 567.2 L430.2 561.9 L431.0 564.0 L431.7 563.7 L432.4 568.8 L433.1 565.6 L433.9 569.6 L434.6 567.8 L435.3 560.6 L436.0 562.0 L436.8 556.1 L437.6 564.8 L438.4 571.5 L439.2 567.5 L440.0 566.0 L440.8 569.0 L441.6 573.9 L442.4 566.4 L443.2 579.9 L444.0 577.5 L444.8 577.6 L445.5 573.0 L446.2 575.9 L447.0 576.5 L447.8 575.6 L448.5 577.7 L449.2 579.8 L450.0 579.0 L450.7 577.0 L451.5 581.3 L452.2 581.2 L452.9 577.2 L453.6 579.1 L454.4 576.6 L455.1 583.6 L455.8 580.4 L456.5 585.1 L457.3 587.2 L458.0 584.0 L458.8 580.0 L459.5 580.9 L460.2 579.4 L461.0 582.3 L461.8 581.3 L462.5 573.5 L463.2 577.9 L464.0 576.0 L464.7 574.6 L465.5 580.5 L466.2 569.4 L466.9 571.4 L467.7 574.0 L468.4 576.8 L469.1 567.4 L469.9 566.7 L470.6 568.0 L471.4 570.2 L472.1 570.3 L472.9 570.1 L473.7 569.0 L474.5 577.8 L475.2 576.5 L476.0 574.0 L476.7 570.1 L477.4 570.0 L478.2 571.4 L478.9 569.5 L479.6 565.3 L480.3 561.3 L481.1 566.1 L481.8 555.7 L482.5 555.6 L483.2 556.9 L483.9 556.0 L484.7 561.4 L485.4 557.8 L486.1 563.5 L486.8 565.9 L487.6 565.3 L488.3 560.0 L489.0 565.0 L489.8 559.6 L490.6 554.2 L491.4 552.8 L492.2 544.6 L493.0 545.0 L493.8 538.4 L494.6 539.0 L495.4 539.2 L496.2 536.0 L497.0 529.0 L497.7 526.7 L498.4 525.5 L499.1 531.0 L499.8 530.6 L500.6 523.1 L501.3 521.2 L502.0 519.4 L502.7 520.9 L503.4 519.7 L504.1 518.0 L504.8 510.5 L505.6 511.7 L506.3 501.5 L507.0 501.0 L507.7 506.8 L508.4 512.8 L509.1 512.0 L509.9 509.9 L510.6 514.1 L511.3 519.4 L512.0 523.0 L512.8 519.8 L513.6 521.4 L514.4 522.1 L515.1 518.7 L515.9 515.2 L516.7 510.4 L517.5 510.0 L518.2 511.3 L518.9 515.8 L519.6 524.1 L520.3 526.5 L521.0 523.0 L521.8 525.5 L522.6 513.3 L523.4 512.0 L524.2 496.2 L525.0 493.0 L525.7 488.6 L526.4 475.6 L527.1 483.0 L527.9 482.4 L528.6 479.2 L529.3 472.2 L530.0 474.0 L530.8 459.6 L531.7 457.5 L532.5 446.0 L533.2 447.4 L533.9 458.8 L534.6 461.1 L535.3 464.3 L536.0 471.0 L536.8 472.5 L537.5 478.3 L538.2 476.7 L539.0 480.6 L539.8 476.9 L540.6 473.6 L541.4 455.0 L542.2 463.6 L543.0 452.5 L543.9 456.1 L544.7 467.0 L545.6 468.0 L546.5 461.1 L547.3 448.2 L548.1 443.5 L549.0 440.0 L549.8 441.7 L550.6 448.9 L551.4 457.4 L552.2 459.5 L553.0 471.0 L553.8 477.1 L554.5 476.8 L555.2 483.9 L556.0 487.8 L556.8 497.6 L557.5 487.0 L558.2 488.5 L559.0 484.2 L559.8 466.1 L560.5 469.5 L561.2 454.4 L562.0 462.0 L562.8 470.9 L563.6 478.9 L564.4 491.9 L565.2 498.9 L566.0 505.6 L566.8 512.2 L567.5 514.2 L568.2 523.1 L569.0 530.6 L569.8 524.6 L570.5 516.5 L571.2 500.0 L572.0 496.0 L572.8 495.1 L573.5 502.0 L574.2 504.1 L575.0 505.6 L575.8 502.5 L576.6 495.1 L577.4 493.5 L578.2 492.5 L579.0 484.0 L579.7 492.2 L580.4 489.5 L581.1 494.6 L581.9 504.0 L582.6 503.0 L583.3 512.2 L584.0 514.8 L584.7 515.0 L585.5 505.8 L586.4 498.3 L587.2 490.1 L588.0 480.6 L588.8 471.6 L589.5 462.5 L590.2 455.3 L591.0 446.0 L591.8 447.9 L592.5 445.8 L593.3 464.0 L594.1 467.1 L594.8 479.3 L595.6 487.0 L596.5 481.3 L597.3 481.7 L598.1 474.6 L599.0 474.0 L599.8 482.7 L600.6 481.4 L601.4 490.8 L602.2 495.0 L603.0 505.6 L603.7 511.2 L604.4 498.2 L605.1 502.9 L605.9 503.4 L606.6 492.8 L607.3 504.2 L608.0 499.0 L608.8 506.1 L609.5 503.4 L610.2 506.3 L611.0 516.5 L611.8 514.5 L612.5 504.1 L613.2 504.1 L614.0 499.0 L614.8 499.5 L615.5 503.3 L616.2 502.6 L617.0 509.0 L617.9 502.2 L618.8 496.9 L619.7 490.0 L620.4 495.5 L621.1 502.0 L621.9 509.3 L622.6 508.4 L623.3 515.6 L624.0 521.0 L624.8 524.7 L625.5 518.0 L626.2 517.0 L627.0 520.4 L627.8 519.1 L628.5 515.2 L629.2 521.4 L630.0 519.7 L630.8 521.0 L631.6 524.2 L632.4 520.2 L633.1 522.9 L633.9 530.0 L634.7 524.0 L635.4 533.0 L636.1 534.9 L636.9 539.1 L637.6 539.4 L638.3 539.8 L639.0 546.0 L639.7 552.9 L640.4 547.1 L641.1 556.8 L641.9 551.3 L642.6 554.7 L643.3 557.5 L644.0 555.6 L644.8 557.9 L645.6 564.5 L646.4 570.8 L647.2 565.2 L648.0 572.5 L648.8 574.0 L649.6 577.7 L650.4 586.8 L651.2 591.4 L652.0 595.0 L652.7 585.6 L653.4 584.3 L654.2 580.8 L654.9 579.2 L655.6 571.0 L656.3 570.7 L657.1 569.5 L657.8 568.6 L658.5 562.3 L659.3 563.1 L660.0 563.0 L660.7 566.5 L661.4 567.9 L662.1 577.0 L662.9 586.1 L663.6 580.6 L664.3 596.0 L665.0 595.0 L665.8 594.2 L666.6 592.5 L667.4 593.9 L668.2 594.9 L669.0 596.0 L669.8 597.4 L670.6 587.7 L671.4 584.0 L672.2 583.1 L673.0 576.9 L673.8 574.0 L674.5 573.5 L675.2 562.6 L676.0 574.0 L676.8 570.4 L677.5 573.0 L678.3 577.7 L679.2 579.7 L680.0 584.0 L680.7 579.5 L681.4 580.5 L682.1 583.5 L682.8 589.7 L683.5 590.7 L684.2 586.6 L684.9 592.1 L685.6 588.0 L686.4 584.0 L687.1 582.0 L687.9 585.2 L688.7 584.2 L689.4 581.2 L690.2 578.8 L690.9 576.9 L691.7 565.6 L692.5 578.3 L693.2 577.5 L694.0 573.0 L694.8 573.9 L695.5 573.1 L696.2 578.8 L697.0 580.6 L697.7 575.9 L698.5 577.3 L699.2 584.7 L699.9 582.9 L700.7 580.2 L701.4 578.6 L702.1 580.8 L702.8 580.8 L703.6 580.7 L704.3 578.0 L705.0 581.2 L705.8 580.9 L706.5 582.0 L707.2 580.3 L708.0 578.4 L708.8 573.1 L709.5 580.4 L710.2 578.5 L711.0 573.7 L711.8 582.5 L712.5 569.9 L713.2 570.2 L714.0 573.0 L714.7 571.0 L715.5 574.6 L716.2 566.1 L716.9 575.3 L717.7 577.4 L718.4 573.7 L719.1 579.0 L719.9 571.0 L720.6 570.0 L721.3 570.6 L722.0 562.1 L722.7 573.3 L723.4 577.8 L724.2 575.7 L724.9 575.8 L725.6 574.0 L726.3 580.3 L727.0 577.5 L727.8 579.5 L728.5 578.6 L729.2 575.3 L730.0 577.5 L730.8 581.0 L731.5 587.4 L732.2 578.9 L733.0 581.4 L733.8 585.9 L734.5 587.7 L735.2 590.8 L736.0 587.0 L736.7 586.8 L737.4 587.1 L738.2 585.1 L738.9 584.4 L739.6 581.9 L740.3 585.9 L741.1 588.0 L741.8 582.4 L742.5 580.6 L743.2 580.5 L744.0 579.7 L744.8 579.4 L745.5 585.4 L746.2 582.2 L747.0 578.2 L747.8 584.6 L748.5 583.7 L749.2 586.2 L750.0 585.0 L750.7 580.1 L751.4 581.7 L752.2 584.8 L752.9 579.4 L753.6 579.9 L754.3 584.9 L755.1 580.1 L755.8 580.9 L756.5 577.5 L757.3 577.6 L758.1 575.3 L758.9 578.0 L759.6 568.5 L760.4 562.2 L761.2 565.3 L762.0 563.0 L762.8 562.5 L763.5 562.7 L764.2 570.4 L765.0 567.4 L765.8 564.5 L766.5 574.1 L767.2 575.1 L768.0 577.5 L768.7 574.6 L769.4 568.3 L770.2 573.6 L770.9 575.1 L771.6 565.6 L772.3 568.5 L773.0 564.8 L773.8 565.0 L774.5 559.1 L775.3 560.1 L776.1 551.3 L776.9 563.7 L777.7 549.8 L778.4 550.8 L779.2 543.7 L780.0 543.0 L780.7 539.0 L781.5 540.6 L782.2 547.2 L782.9 544.7 L783.6 541.0 L784.4 541.9 L785.1 543.3 L785.8 537.5 L786.5 537.6 L787.3 541.0 L788.0 537.0 L788.8 524.6 L789.5 524.8 L790.3 532.4 L791.0 529.1 L791.8 530.8 L792.6 520.7 L793.3 531.4 L794.1 522.2 L794.8 518.7 L795.6 518.0 L796.4 519.7 L797.1 519.6 L797.9 512.9 L798.7 513.9 L799.5 512.7 L800.2 513.0 L801.0 509.0 L801.8 510.1 L802.6 513.4 L803.4 508.7 L804.1 515.5 L804.9 528.9 L805.7 517.7 L806.5 518.0 L807.3 519.3 L808.1 516.1 L808.9 507.2 L809.6 512.8 L810.4 499.7 L811.2 499.1 L812.0 502.5 L812.8 506.5 L813.6 509.0 L814.4 511.4 L815.1 517.1 L815.9 526.3 L816.7 522.4 L817.5 521.0 L818.3 515.4 L819.0 515.8 L819.8 511.1 L820.6 509.0 L821.3 516.7 L822.1 514.4 L822.8 513.5 L823.5 535.2 L824.3 534.4 L825.0 535.0 L825.7 530.5 L826.4 532.2 L827.1 533.4 L827.9 531.4 L828.6 537.0 L829.3 529.0 L830.0 527.5 L830.8 519.4 L831.5 529.9 L832.2 518.1 L833.0 515.8 L833.8 516.5 L834.5 518.0 L835.2 528.4 L835.9 532.4 L836.6 530.4 L837.3 535.0 L838.0 543.9 L838.8 546.0 L839.5 547.7 L840.2 545.3 L841.0 541.5 L841.8 541.9 L842.5 552.3 L843.2 551.6 L844.0 552.5 L845.0 569.1 L846.0 587.0 L846.7 577.1 L847.4 582.4 L848.1 576.3 L848.9 572.4 L849.6 570.5 L850.3 566.7 L851.0 562.0 L851.8 560.2 L852.6 567.4 L853.4 571.4 L854.2 562.1 L855.0 563.0 L855.8 569.4 L856.6 569.8 L857.4 576.6 L858.2 585.1 L859.0 585.0 L859.8 579.9 L860.6 581.1 L861.4 576.0 L862.2 578.1 L863.0 571.0 L863.8 575.5 L864.5 573.0 L865.2 583.1 L866.0 574.8 L866.8 578.8 L867.5 573.6 L868.2 581.0 L869.0 582.0 L869.7 581.7 L870.5 576.2 L871.2 578.3 L871.9 576.4 L872.6 573.6 L873.4 569.1 L874.1 572.3 L874.8 570.4 L875.5 575.0 L876.3 572.6 L877.0 571.0 L877.8 572.6 L878.5 570.1 L879.2 572.3 L880.0 576.9 L880.8 567.1 L881.5 574.0 L882.3 573.0 L883.1 559.7 L883.9 566.2 L884.7 563.5 L885.4 563.7 L886.1 569.8 L886.9 572.7 L887.6 572.9 L888.3 573.9 L889.0 577.5 L889.7 576.6 L890.4 579.8 L891.1 569.1 L891.9 573.3 L892.6 568.6 L893.3 570.9 L894.0 571.0 L894.7 568.8 L895.5 568.8 L896.2 574.9 L896.9 579.1 L897.6 578.4 L898.4 577.2 L899.1 574.7 L899.8 576.9 L900.5 582.6 L901.3 579.4 L902.0 582.0 L902.7 578.6 L903.4 578.9 L904.1 577.6 L904.8 572.3 L905.5 572.7 L906.2 564.9 L906.9 572.6 L907.6 564.9 L908.3 568.2 L909.0 565.0 L909.7 562.0 L910.4 556.5 L911.1 559.6 L911.8 560.4 L912.5 563.8 L913.2 562.5 L914.0 558.2 L914.7 555.8 L915.4 563.4 L916.1 566.5 L916.8 557.7 L917.5 560.0 L918.2 559.2 L919.0 560.5 L919.8 560.1 L920.5 568.8 L921.2 562.2 L922.0 565.0 L922.8 560.2 L923.5 564.9 L924.2 554.8 L925.0 556.5 L925.8 553.5 L926.5 555.6 L927.2 549.6 L928.0 551.0 L928.7 549.2 L929.4 545.4 L930.1 553.3 L930.9 552.8 L931.6 552.4 L932.3 551.4 L933.0 552.5 L933.8 553.9 L934.5 558.5 L935.2 558.5 L936.0 561.9 L936.8 560.8 L937.5 575.1 L938.2 562.1 L939.0 566.5 L939.7 570.0 L940.5 562.8 L941.2 559.4 L941.9 559.9 L942.6 563.7 L943.4 567.3 L944.1 565.3 L944.8 566.0 L945.5 567.4 L946.3 561.6 L947.0 562.0 L947.7 558.3 L948.4 562.6 L949.1 565.9 L949.9 564.3 L950.6 555.0 L951.3 555.0 L952.0 555.6 L952.8 563.7 L953.5 563.0 L954.2 553.6 L955.0 555.3 L955.8 552.7 L956.5 545.9 L957.2 551.5 L958.0 552.5 L958.8 551.3 L959.5 537.6 L960.2 547.7 L961.0 539.4 L961.8 547.6 L962.5 538.0 L963.2 540.0 L964.0 537.0 L964.7 532.0 L965.4 527.2 L966.1 525.7 L966.9 526.8 L967.6 526.1 L968.3 525.6 L969.0 524.0 L969.8 524.5 L970.6 524.8 L971.4 525.1 L972.2 530.2 L973.0 521.0 L973.7 513.4 L974.4 526.4 L975.1 534.6 L975.9 531.4 L976.6 535.0 L977.3 542.2 L978.0 543.0 L978.7 539.5 L979.5 541.0 L980.2 543.7 L981.0 542.6 L981.7 549.1 L982.5 537.1 L983.2 536.0 L984.0 537.0 L984.7 538.0 L985.5 533.2 L986.3 538.0 L987.1 529.1 L987.9 527.7 L988.6 528.2 L989.4 525.0 L990.2 519.7 L991.0 519.7 L991.8 519.1 L992.5 524.0 L993.2 529.3 L994.0 524.4 L994.8 525.5 L995.5 535.8 L996.2 527.2 L997.0 534.0 L997.7 543.0 L998.5 535.5 L999.2 532.6 L999.9 531.9 L1000.6 530.9 L1001.4 535.8 L1002.1 538.9 L1002.8 540.8 L1003.5 542.5 L1004.3 533.7 L1005.0 540.0 L1005.8 535.5 L1006.5 538.9 L1007.2 544.9 L1008.0 538.3 L1008.8 535.3 L1009.5 534.7 L1010.2 531.9 L1011.0 534.0 L1011.7 537.0 L1012.5 535.1 L1013.2 540.9 L1013.9 536.4 L1014.6 534.4 L1015.4 534.3 L1016.1 540.4 L1016.8 541.3 L1017.5 540.1 L1018.3 543.9 L1019.0 546.0 L1019.7 545.3 L1020.5 539.9 L1021.2 536.8 L1021.9 533.3 L1022.6 533.1 L1023.4 536.8 L1024.1 534.5 L1024.8 529.2 L1025.5 533.5 L1026.3 529.7 L1027.0 527.5 L1027.8 522.9 L1028.5 532.3 L1029.2 524.4 L1030.0 527.9 L1030.8 534.8 L1031.5 532.0 L1032.3 529.5 L1033.1 536.2 L1033.9 543.6 L1034.7 537.0 L1035.4 536.9 L1036.1 541.3 L1036.8 532.8 L1037.6 536.5 L1038.3 538.3 L1039.0 535.3 L1039.7 527.4 L1040.4 537.8 L1041.1 542.1 L1041.9 547.2 L1042.6 541.3 L1043.3 542.3 L1044.0 540.0 L1044.7 542.5 L1045.4 539.9 L1046.2 540.1 L1046.9 544.6 L1047.6 548.0 L1048.3 544.2 L1049.1 545.1 L1049.8 538.7 L1050.5 537.5 L1051.2 553.0 L1052.0 545.8 L1052.7 544.4 L1053.4 546.0 L1054.2 545.4 L1054.9 541.7 L1055.7 545.0 L1056.4 537.3 L1057.2 543.8 L1058.0 543.3 L1058.7 537.2 L1059.5 537.4 L1060.2 537.5 L1061.0 534.0 L1061.7 537.5 L1062.5 539.2 L1063.2 542.0 L1063.9 540.3 L1064.6 539.4 L1065.4 542.0 L1066.1 539.1 L1066.8 535.0 L1067.5 545.8 L1068.3 545.1 L1069.0 546.0 L1069.7 549.3 L1070.5 545.3 L1071.2 541.8 L1071.9 549.6 L1072.6 544.9 L1073.4 536.0 L1074.1 544.1 L1074.8 541.7 L1075.5 542.8 L1076.3 545.6 L1077.0 541.5 L1077.8 541.2 L1078.5 531.2 L1079.2 537.8 L1080.0 534.7 L1080.8 529.4 L1081.5 538.9 L1082.2 525.1 L1083.0 524.0 L1083.8 528.6 L1084.5 527.9 L1085.2 523.1 L1086.0 517.8 L1086.8 516.2 L1087.5 523.1 L1088.2 517.0 L1089.0 518.0 L1089.8 519.4 L1090.5 515.0 L1091.2 511.2 L1092.0 514.3 L1092.8 508.3 L1093.5 500.2 L1094.2 504.7 L1095.0 504.0 L1095.8 502.2 L1096.5 507.3 L1097.2 503.8 L1098.0 501.8 L1098.8 502.5 L1099.5 506.3 L1100.2 504.0 L1101.0 508.3 L1101.8 519.3 L1102.5 515.0 L1103.2 518.9 L1103.9 526.4 L1104.6 525.9 L1105.3 520.2 L1106.0 529.0 L1106.7 523.2 L1107.5 519.4 L1108.2 509.2 L1109.0 502.4 L1109.7 505.6 L1110.4 499.2 L1111.2 504.9 L1111.9 506.8 L1112.6 510.2 L1113.3 507.4 L1114.1 509.9 L1114.8 507.0 L1115.5 495.7 L1116.3 501.8 L1117.0 502.5 L1117.7 508.6 L1118.4 507.2 L1119.1 515.1 L1119.9 511.5 L1120.6 515.7 L1121.3 515.8 L1122.0 518.0 L1122.7 520.4 L1123.5 515.9 L1124.2 523.1 L1124.9 522.7 L1125.6 513.1 L1126.4 528.9 L1127.1 522.3 L1127.8 525.9 L1128.5 528.7 L1129.3 527.1 L1130.0 527.5 L1130.8 531.9 L1131.6 528.0 L1132.3 530.6 L1133.1 523.9 L1133.9 524.3 L1134.7 521.0 L1135.5 523.4 L1136.3 525.6 L1137.2 532.7 L1138.0 540.0 L1138.8 532.6 L1139.5 540.8 L1140.2 526.3 L1141.0 523.8 L1141.8 526.0 L1142.5 521.0 L1143.2 516.3 L1144.0 525.9 L1144.8 520.1 L1145.5 525.3 L1146.2 534.3 L1147.0 527.5 L1147.7 526.7 L1148.5 526.5 L1149.2 536.9 L1149.9 531.3 L1150.6 528.6 L1151.4 540.0 L1152.1 537.8 L1152.8 546.0 L1153.5 546.8 L1154.3 543.3 L1155.0 546.0 L1155.8 546.6 L1156.5 545.7 L1157.2 544.0 L1158.0 543.4 L1158.8 541.3 L1159.5 544.9 L1160.2 545.9 L1161.0 549.0 L1161.7 546.2 L1162.4 548.7 L1163.1 550.3 L1163.9 543.2 L1164.6 548.7 L1165.3 541.5 L1166.0 543.0 L1166.8 553.9 L1167.5 543.5 L1168.2 551.7 L1169.0 555.6 L1169.8 556.2 L1170.6 556.6 L1171.4 555.1 L1172.2 559.8 L1173.0 557.9 L1173.8 563.0 L1174.5 564.7 L1175.2 565.6 L1175.9 557.5 L1176.6 557.0 L1177.3 557.0 L1178.0 554.0 L1178.7 553.3 L1179.5 548.0 L1180.2 558.4 L1180.9 553.0 L1181.6 552.0 L1182.4 553.9 L1183.1 549.8 L1183.8 553.0 L1184.5 553.5 L1185.3 547.6 L1186.0 549.0 L1186.7 549.0 L1187.5 553.1 L1188.2 542.4 L1188.9 543.6 L1189.6 543.4 L1190.4 546.2 L1191.1 545.0 L1191.8 541.9 L1192.5 541.3 L1193.3 537.1 L1194.0 540.0 L1194.8 541.2 L1195.5 537.8 L1196.2 532.2 L1197.0 532.8 L1197.8 534.6 L1198.5 526.2 L1199.2 528.8 L1200.0 523.0 L1200.7 521.1 L1201.4 522.8 L1202.1 513.2 L1202.9 515.4 L1203.6 523.3 L1204.3 513.2 L1205.0 518.0 L1205.8 524.6 L1206.5 510.0 L1207.2 522.3 L1208.0 524.9 L1208.8 520.3 L1209.5 521.2 L1210.2 521.0 L1211.0 523.0 L1211.8 526.4 L1212.5 526.6 L1213.2 530.1 L1214.0 540.0 L1215.0 556.2 L1216.0 565.0 L1216.8 567.5 L1217.5 558.0 L1218.3 556.7 L1219.1 560.6 L1219.8 550.7 L1220.6 549.0 L1221.4 549.2 L1222.2 558.4 L1223.0 560.0 L1223.8 559.0 L1224.5 567.1 L1225.2 558.8 L1225.9 559.5 L1226.6 553.0 L1227.3 553.9 L1228.0 555.6 L1228.7 559.6 L1229.4 561.7 L1230.1 558.8 L1230.8 563.1 L1231.5 563.0 L1232.3 566.3 L1233.2 568.8 L1234.0 571.0 L1234.8 569.3 L1235.5 559.3 L1236.2 565.2 L1237.0 560.0" fill="none" stroke="#ea4335" stroke-width="4" stroke-linejoin="miter" stroke-miterlimit="3" stroke-linecap="butt"/>
  <circle cx="46" cy="430" r="8" fill="#ea4335"/>
</svg>

<div class="t yl" style="top:338px">80</div>
<div class="t yl" style="top:420px">60</div>
<div class="t yl" style="top:502px">40</div>
<div class="t yl" style="top:584px">20</div>
<div class="t yl" style="top:666px">0</div>

<div class="t xl" style="left:118px">1988<span class="j" style="width:26px">年</span></div>
<div class="t xl" style="left:440px">1998<span class="j" style="width:26px">年</span></div>
<div class="t xl" style="left:762px">2008<span class="j" style="width:26px">年</span></div>
<div class="t xl" style="left:1083px">2018<span class="j" style="width:26px">年</span></div>

<div id="tip"></div>
<div class="t" id="tipv">61.00 USD</div>
<div class="t" id="tipd">1983<span class="j" style="width:24px">年</span>11<span class="j" style="width:24px">月</span>25<span class="j" style="width:24px">日</span></div>

<div class="t k" style="left:15px;top:771px"><span class="j" style="width:48px">始値</span></div>
<div class="t k" style="left:15px;top:817px"><span class="j" style="width:48px">高値</span></div>
<div class="t k" style="left:15px;top:863px"><span class="j" style="width:48px">安値</span></div>
<div class="t k" style="left:15px;top:909px"><span class="j" style="width:96px">時価総額</span></div>
<div class="t k" style="left:15px;top:955px"><span class="j" style="width:120px">株価収益率</span></div>
<div class="t v" style="left:330px;top:772px">29.37</div>
<div class="t v" style="left:330px;top:818px">29.76</div>
<div class="t v" style="left:330px;top:864px">29.31</div>
<div class="t v" style="left:330px;top:910px">2105.02<span class="j" style="width:24px">億</span></div>
<div class="t v" style="left:330px;top:956px">19.44</div>

<div class="t k" style="left:650px;top:771px"><span class="j" style="width:120px">配当利回り</span></div>
<div class="t k" style="left:650px;top:817px"><span class="j" style="width:120px">前日の終値</span></div>
<div class="t k" style="left:650px;top:863px">52 <span class="j" style="width:72px">週高値</span></div>
<div class="t k" style="left:650px;top:909px">52 <span class="j" style="width:72px">週安値</span></div>
<div class="t v" style="left:966px;top:772px">7.04%</div>
<div class="t v" style="left:966px;top:818px">29.23</div>
<div class="t v" style="left:966px;top:864px">39.55</div>
<div class="t v" style="left:966px;top:910px">26.08</div>
</body>
</html>
